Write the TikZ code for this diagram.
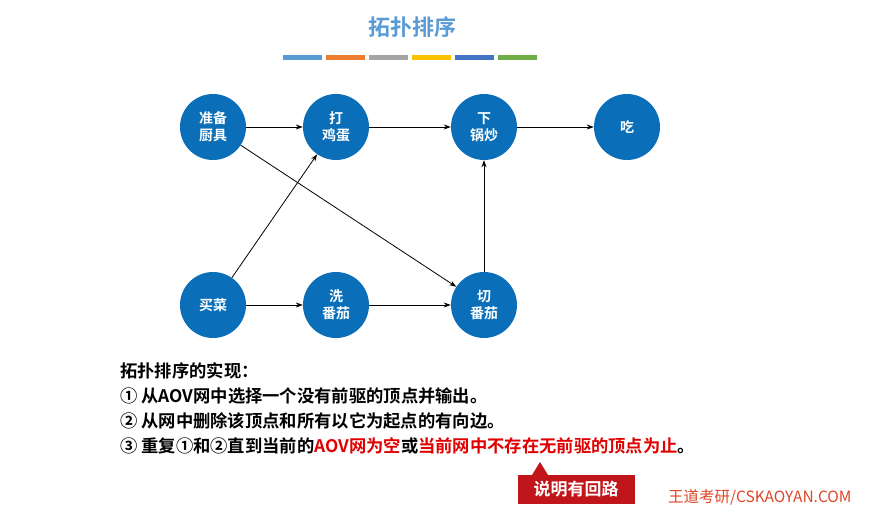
\documentclass[tikz,border=0pt]{standalone}
\usepackage{fontspec}
\setmainfont{Noto Sans CJK SC}[BoldFont={Noto Sans CJK SC Bold}]
\usetikzlibrary{arrows.meta}
\definecolor{nb}{HTML}{0A6FB8}
\definecolor{tt}{HTML}{5B9BD5}
\definecolor{rr}{HTML}{E00000}
\definecolor{bx}{HTML}{C0161B}
\definecolor{s1}{HTML}{5B9BD5}
\definecolor{s2}{HTML}{ED7D31}
\definecolor{s3}{HTML}{A5A5A5}
\definecolor{s4}{HTML}{FFC000}
\definecolor{s5}{HTML}{4472C4}
\definecolor{s6}{HTML}{70AD47}
\tikzset{
  vtx/.style={circle,fill=nb,minimum size=66pt,inner sep=0pt,text=white,font=\bfseries\fontsize{14}{17}\selectfont,align=center},
  edge/.style={-{Stealth[length=7pt,width=5pt]},line width=0.8pt},
  ln/.style={anchor=west,font=\bfseries\fontsize{17.3}{19}\selectfont,inner sep=0pt}
}
\begin{document}
\begin{tikzpicture}[x=1pt,y=-1pt]
\useasboundingbox (0,0) rectangle (875,513);
\node[text=tt,font=\bfseries\fontsize{22}{26}\selectfont] (title) at (412,27) {拓扑排序};
\foreach \i in {1,...,6}{
  \fill[s\i] ({283+(\i-1)*43},55) rectangle ({283+(\i-1)*43+39},60);}
\node[vtx] (a) at (213,127) {准备\\厨具};
\node[vtx] (b) at (336,127) {打\\鸡蛋};
\node[vtx] (c) at (484,127) {下\\锅炒};
\node[vtx] (d) at (627,127) {吃};
\node[vtx] (e) at (213,305) {买菜};
\node[vtx] (f) at (336,305) {洗\\番茄};
\node[vtx] (g) at (484,305) {切\\番茄};
\draw[edge] (a) -- (b);
\draw[edge] (b) -- (c);
\draw[edge] (c) -- (d);
\draw[edge] (e) -- (b);
\draw[edge] (a) -- (g);
\draw[edge] (e) -- (f);
\draw[edge] (f) -- (g);
\draw[edge] (g) -- (c);
\node[ln] (t0) at (120,371) {拓扑排序的实现：};
\node[ln] (t1) at (120,396) {① 从AOV网中选择一个没有前驱的顶点并输出。};
\node[ln] (t2) at (120,421) {② 从网中删除该顶点和所有以它为起点的有向边。};
\node[ln] (t3) at (120,446) {③ 重复①和②直到当前的\textcolor{rr}{AOV网为空}或\textcolor{rr}{当前网中不存在无前驱的顶点为止}。};
\node[fill=bx,text=white,font=\bfseries\fontsize{17}{20}\selectfont,minimum width=117pt,minimum height=29pt,inner sep=0pt] (box) at (576,489) {说明有回路};
\fill[bx] (532,475) -- (540,462) -- (548,475) -- cycle;
\node[text={rgb,255:red,220;green,70;blue,40},font=\fontsize{15.5}{17}\selectfont,anchor=west,inner sep=0pt] (ft) at (668,497) {王道考研/CSKAOYAN.COM};
\end{tikzpicture}
\end{document}
